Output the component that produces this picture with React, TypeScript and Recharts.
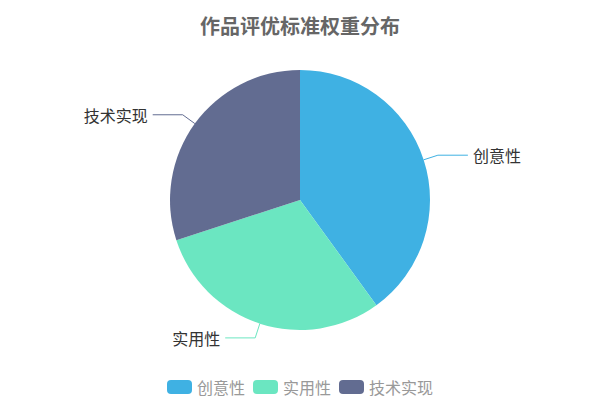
import React from 'react';
import { PieChart, Pie, Cell, Legend } from 'recharts';

const TITLE = '作品评优标准权重分布';
const NAMES = ['创意性', '实用性', '技术实现'];
const WEIGHTS = [40, 30, 30];
const COLORS = ['#3fb1e3', '#6be6c1', '#626c91'];

const FONT = "'Noto Sans CJK SC', 'Noto Sans', sans-serif";
const RADIAN = Math.PI / 180;

const data = NAMES.map((name, i) => ({ name, value: WEIGHTS[i] }));

function renderLabel(props: any) {
  const { cx, cy, midAngle, outerRadius, index, name } = props;
  const cos = Math.cos(-midAngle * RADIAN);
  const sin = Math.sin(-midAngle * RADIAN);
  const sx = cx + outerRadius * cos;
  const sy = cy + outerRadius * sin;
  const mx = cx + (outerRadius + 15) * cos;
  const my = cy + (outerRadius + 15) * sin;
  const dir = cos >= 0 ? 1 : -1;
  const ex = mx + dir * 30;
  const color = COLORS[index % COLORS.length];
  return (
    <g>
      <path d={`M${sx},${sy}L${mx},${my}L${ex},${my}`} stroke={color} fill="none" strokeWidth={1} />
      <text
        x={ex + dir * 5}
        y={my}
        textAnchor={dir > 0 ? 'start' : 'end'}
        dominantBaseline="central"
        fill="#333"
        fontSize={16}
        fontFamily={FONT}
      >
        {name}
      </text>
    </g>
  );
}

function LegendContent() {
  return (
    <div style={{ display: 'flex', justifyContent: 'center', alignItems: 'center', fontFamily: FONT }}>
      {NAMES.map((name, i) => (
        <div key={name} style={{ display: 'flex', alignItems: 'center', marginRight: i < NAMES.length - 1 ? 8 : 0 }}>
          <span
            style={{
              display: 'inline-block',
              width: 25,
              height: 14,
              borderRadius: 4,
              background: COLORS[i],
              marginRight: 5,
            }}
          />
          <span style={{ fontSize: 16, color: '#999', lineHeight: '20px' }}>{name}</span>
        </div>
      ))}
    </div>
  );
}

export default function App() {
  return (
    <div style={{ position: 'absolute', left: 0, top: 0, width: 600, height: 400, background: '#fff' }}>
      <div
        style={{
          position: 'absolute',
          top: 12,
          left: 0,
          width: 600,
          textAlign: 'center',
          fontFamily: FONT,
          fontWeight: 'bold',
          fontSize: 20,
          color: '#666',
          lineHeight: '28px',
        }}
      >
        {TITLE}
      </div>
      <PieChart width={600} height={400} margin={{ top: 0, right: 0, bottom: 0, left: 0 }}>
        <Pie
          data={data}
          dataKey="value"
          nameKey="name"
          cx={300}
          cy={200}
          outerRadius={130}
          startAngle={90}
          endAngle={-270}
          stroke="none"
          label={renderLabel}
          labelLine={false}
          isAnimationActive={false}
        >
          {data.map((_, i) => (
            <Cell key={`c-${i}`} fill={COLORS[i % COLORS.length]} />
          ))}
        </Pie>
        <Legend
          verticalAlign="bottom"
          wrapperStyle={{ bottom: 3 }}
          content={() => <LegendContent />}
        />
      </PieChart>
    </div>
  );
}
